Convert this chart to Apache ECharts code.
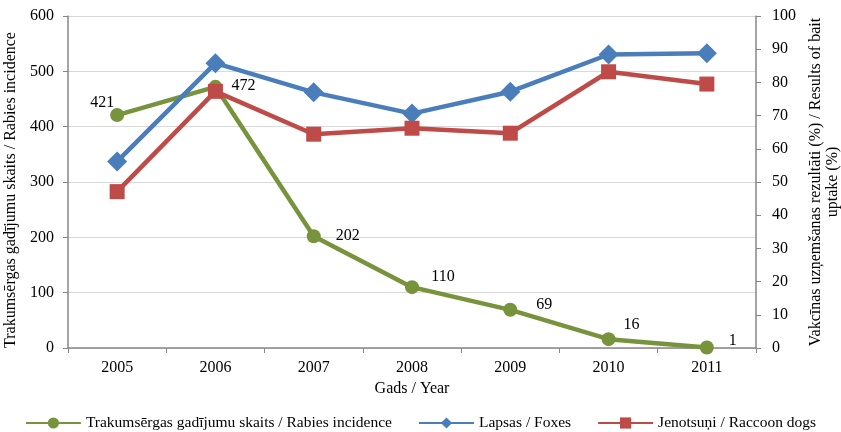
<!DOCTYPE html>
<html>
<head>
<meta charset="utf-8">
<script src="https://cdn.jsdelivr.net/npm/echarts@6/dist/echarts.min.js"></script>
<style>
  html, body { margin: 0; padding: 0; background: #fff; }
  #chart { width: 841px; height: 432px; }
</style>
</head>
<body>
<div id="chart"></div>
<script>
// Years on the category axis
const years = ['2005', '2006', '2007', '2008', '2009', '2010', '2011'];
// Rabies cases per year (left axis)
const rabiesCases = [421, 472, 202, 110, 69, 16, 1];
// Bait uptake results, % (right axis)
const foxesUptake = [56.2, 85.8, 77.0, 70.6, 77.2, 88.4, 88.8];
const raccoonUptake = [47.1, 77.3, 64.4, 66.2, 64.7, 83.2, 79.5];

const names = {
  rabies: 'Trakumsērgas gadījumu skaits / Rabies incidence',
  foxes: 'Lapsas / Foxes',
  raccoon: 'Jenotsuņi / Raccoon dogs'
};

const FONT = 'Liberation Serif';
const FS = 16;
const AXIS_GRAY = '#868686';
const GRID_GRAY = '#d9d9d9';

// label placement (px offset from the point) for each rabies value
const labelOffsets = [[-15, -12], [28, -1], [34, 0], [31, -10], [34, -5], [23, -14], [26, -7]];

const rabiesData = rabiesCases.map((v, i) => ({
  value: v,
  label: {
    show: true,
    position: 'inside',
    offset: labelOffsets[i],
    formatter: '{c}',
    color: '#000',
    fontFamily: FONT,
    fontSize: FS
  }
}));

const chart = echarts.init(document.getElementById('chart'), null, { renderer: 'canvas' });

chart.setOption({
  animation: false,
  backgroundColor: '#fff',
  textStyle: { fontFamily: FONT },
  grid: { left: 68, right: 85, top: 16, bottom: 84, containLabel: false, outerBoundsMode: 'none' },
  legend: {
    bottom: 1,
    left: 'center',
    padding: 0,
    itemWidth: 55,
    itemHeight: 14,
    itemGap: 26,
    textStyle: { fontFamily: FONT, fontSize: 15.5, color: '#000' },
    data: [names.rabies, names.foxes, names.raccoon]
  },
  xAxis: {
    type: 'category',
    data: years,
    boundaryGap: true,
    name: 'Gads / Year',
    nameLocation: 'middle',
    nameGap: 29,
    nameTextStyle: { fontFamily: FONT, fontSize: FS, color: '#000' },
    axisLine: { lineStyle: { color: AXIS_GRAY, width: 1.5 } },
    axisTick: { show: true, alignWithLabel: false, length: 5, lineStyle: { color: AXIS_GRAY } },
    axisLabel: { fontFamily: FONT, fontSize: FS, color: '#000', margin: 12 },
    splitLine: { show: false }
  },
  yAxis: [
    {
      type: 'value',
      min: 0,
      max: 600,
      interval: 100,
      position: 'left',
      name: 'Trakumsērgas gadījumu skaits / Rabies incidence',
      nameLocation: 'middle',
      nameRotate: 90,
      nameGap: 47,
      nameTextStyle: { fontFamily: FONT, fontSize: FS, color: '#000', padding: [0, 16, 0, 0] },
      axisLine: { show: true, lineStyle: { color: AXIS_GRAY, width: 1.5 } },
      axisTick: { show: true, length: 5, lineStyle: { color: AXIS_GRAY } },
      axisLabel: { fontFamily: FONT, fontSize: FS, color: '#000', margin: 14 },
      splitLine: { show: true, lineStyle: { color: GRID_GRAY, width: 1.2 } }
    },
    {
      type: 'value',
      min: 0,
      max: 100,
      interval: 10,
      position: 'right',
      name: 'Vakcīnas uzņemšanas rezultāti (%) / Results of bait\nuptake (%)',
      nameLocation: 'middle',
      nameRotate: 90,
      nameGap: 50,
      nameTextStyle: { fontFamily: FONT, fontSize: FS, color: '#000', align: 'center', lineHeight: 17 },
      axisLine: { show: true, lineStyle: { color: AXIS_GRAY, width: 1.5 } },
      axisTick: { show: true, length: 5, lineStyle: { color: AXIS_GRAY } },
      axisLabel: { fontFamily: FONT, fontSize: FS, color: '#000', margin: 16 },
      splitLine: { show: false }
    }
  ],
  series: [
    {
      name: names.rabies,
      type: 'line',
      yAxisIndex: 0,
      data: rabiesData,
      symbol: 'circle',
      symbolSize: 14,
      color: '#77933C',
      lineStyle: { width: 4.5, color: '#77933C' },
      itemStyle: { color: '#77933C' },
      z: 3
    },
    {
      name: names.foxes,
      type: 'line',
      yAxisIndex: 1,
      data: foxesUptake,
      symbol: 'diamond',
      symbolSize: 20,
      color: '#4A7EBB',
      lineStyle: { width: 4.5, color: '#4A7EBB' },
      itemStyle: { color: '#4A7EBB' },
      z: 4
    },
    {
      name: names.raccoon,
      type: 'line',
      yAxisIndex: 1,
      data: raccoonUptake,
      symbol: 'rect',
      symbolSize: 15,
      color: '#BE4B48',
      lineStyle: { width: 4.5, color: '#BE4B48' },
      itemStyle: { color: '#BE4B48' },
      z: 5
    }
  ]
});
</script>
</body>
</html>
